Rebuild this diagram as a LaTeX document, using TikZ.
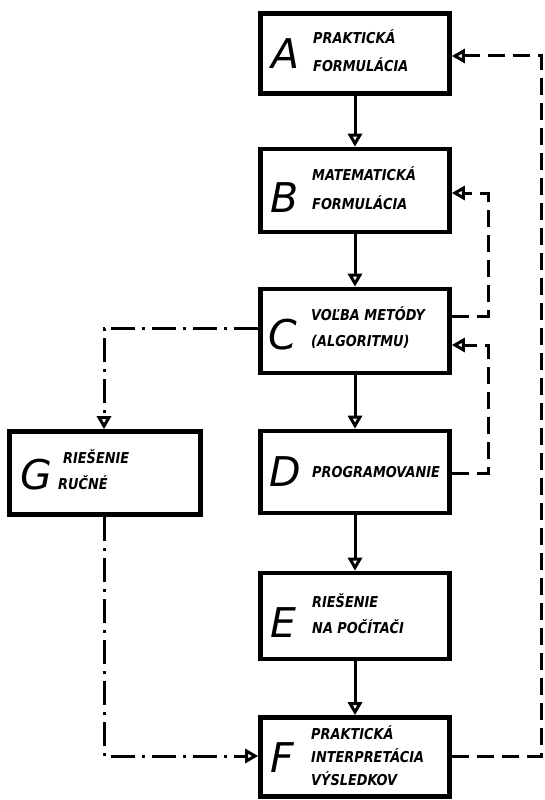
\documentclass[tikz,border=0pt]{standalone}
\usepackage{fontspec}
\setmainfont{DejaVu Sans}
\newfontfamily\labfont[FakeStretch=0.86]{DejaVu Sans}
\usetikzlibrary{arrows.meta}
\begin{document}
\begin{tikzpicture}[x=1pt,y=-1pt,
  box/.style={draw, line width=4.6pt, inner sep=0pt, minimum width=189pt},
  big/.style={font=\fontsize{41}{41}\selectfont\itshape, inner sep=0pt, text height=30pt, text depth=0pt},
  lab/.style={font=\labfont\fontsize{15}{15}\selectfont\bfseries\itshape, inner sep=0pt, text height=11pt, text depth=0pt, anchor=west},
  tip/.style={-{Triangle[open,length=13pt,width=14pt]}},
  solidc/.style={line width=3pt, tip},
  dsh/.style={line width=3pt, tip, dash pattern=on 17pt off 8pt},
  dd/.style={line width=3pt, tip, dash pattern=on 24pt off 7pt on 3pt off 7pt}]
\useasboundingbox (0,0) rectangle (544,800);
% boxes
\node[box, minimum height=80pt] (A) at (355,53.5) {};
\node[box, minimum height=83pt] (B) at (355,190.5) {};
\node[box, minimum height=84pt] (C) at (355,331) {};
\node[box, minimum height=82pt] (D) at (355,472) {};
\node[box, minimum height=86pt] (E) at (355,616) {};
\node[box, minimum height=79pt] (F) at (355,757) {};
\node[box, minimum width=191pt, minimum height=83pt] (G) at (105,473) {};
% letters
\node[big] (Al) at (286,53) {A};
\node[lab] (A1) at (313,38) {PRAKTICKÁ};
\node[lab] (A2) at (313,66) {FORMULÁCIA};
\node[big] (Bl) at (285,197) {B};
\node[lab] (B1) at (312,175) {MATEMATICKÁ};
\node[lab] (B2) at (312,204) {FORMULÁCIA};
\node[big] (Cl) at (283,334) {C};
\node[lab] (C1) at (311,315) {VOĽBA METÓDY};
\node[lab] (C2) at (311,341) {(ALGORITMU)};
\node[big] (Dl) at (285,471) {D};
\node[lab] (D1) at (312,472) {PROGRAMOVANIE};
\node[big] (El) at (283,622) {E};
\node[lab] (E1) at (312,602) {RIEŠENIE};
\node[lab] (E2) at (312,628) {NA POČÍTAČI};
\node[big] (Fl) at (282,757) {F};
\node[lab] (F1) at (311,734) {PRAKTICKÁ};
\node[lab] (F2) at (311,757) {INTERPRETÁCIA};
\node[lab] (F3) at (311,780) {VÝSLEDKOV};
\node[big] (Gl) at (36,474) {G};
\node[lab] (G1) at (63,458) {RIEŠENIE};
\node[lab] (G2) at (58,484) {RUČNÉ};
% solid arrows
\draw[solidc] (A.south) -- (B.north);
\draw[solidc] (B.south) -- (C.north);
\draw[solidc] (C.south) -- (D.north);
\draw[solidc] (D.south) -- (E.north);
\draw[solidc] (E.south) -- (F.north);
% dashed feedback
\coordinate (cb1) at (488,316);
\coordinate (cb2) at (488,193);
\draw[dsh] (C.east |- cb1) -- (cb1) -- (cb2) -- (B.east |- cb2);
\coordinate (dc1) at (488,473);
\coordinate (dc2) at (488,345);
\draw[dsh] (D.east |- dc1) -- (dc1) -- (dc2) -- (C.east |- dc2);
\coordinate (fa1) at (541,756);
\coordinate (fa2) at (541,56);
\draw[dsh] (F.east |- fa1) -- (fa1) -- (fa2) -- (A.east |- fa2);
% dash-dot branch
\coordinate (cg) at (104,328);
\draw[dd] (C.west |- cg) -- (cg) -- (G.north -| cg);
\coordinate (gf) at (104,756);
\draw[dd] (G.south -| gf) -- (gf) -- (F.west |- gf);
\end{tikzpicture}
\end{document}
